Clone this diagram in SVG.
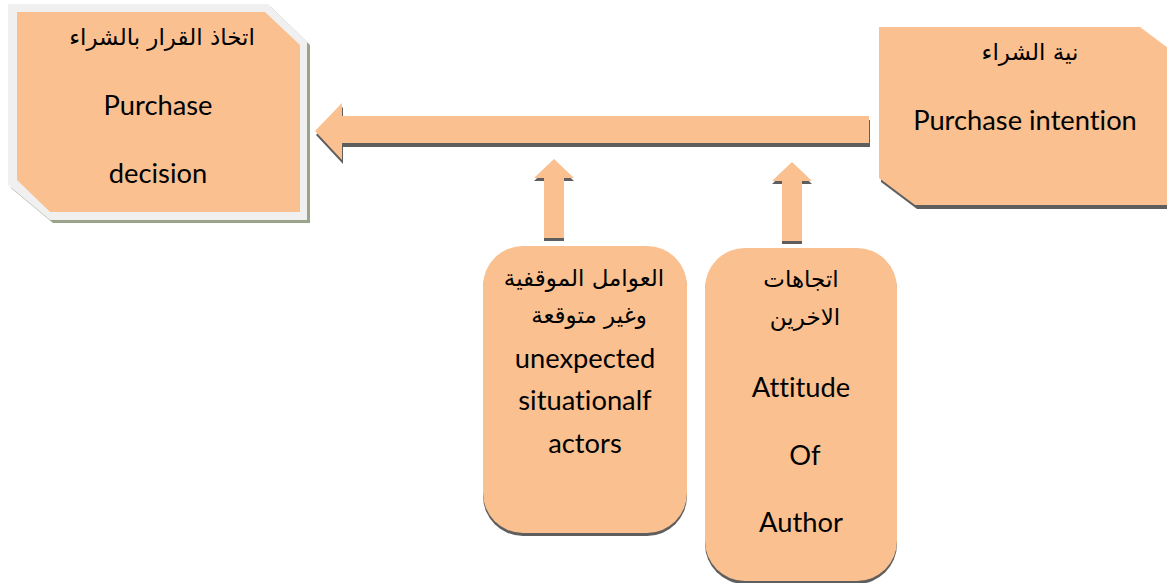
<svg xmlns="http://www.w3.org/2000/svg" width="1167" height="583" viewBox="0 0 1167 583">
<style>
.fill{fill:#FAC090}
.sh{fill:#5E5E5E}
.en{font-family:Lato,"Liberation Sans",sans-serif;font-size:27.3px;fill:#000;text-anchor:middle;font-variant-ligatures:none;font-feature-settings:"liga" 0}
.ar{font-family:"DejaVu Sans",sans-serif;font-size:23px;fill:#000;text-anchor:middle;direction:rtl}
</style>
<rect width="1167" height="583" fill="#fff"/>
<g id="connectors">
  <polygon class="sh" transform="translate(1,4)" points="315,131 342,103 342,116 869,116 869,143 342,143 342,160"/>
  <polygon class="fill" points="315,131 342,103 342,116 869,116 869,143 342,143 342,160"/>
  <polygon class="sh" transform="translate(0,3)" points="554,159 574,178 564,178 564,238 544,238 544,178 534,178"/>
  <polygon class="fill" points="554,159 574,178 564,178 564,238 544,238 544,178 534,178"/>
  <polygon class="sh" transform="translate(0,3)" points="792,162 812,181 802,181 802,241 782,241 782,181 772,181"/>
  <polygon class="fill" points="792,162 812,181 802,181 802,241 782,241 782,181 772,181"/>
</g>
<g id="node-decision">
  <polygon fill="#9AA48A" transform="translate(3,3)" points="8,4 268,4 307,42 307,220 50,220 8,185"/>
  <polygon fill="#F0F0F0" points="8,4 268,4 307,42 307,220 50,220 8,185"/>
  <polygon class="fill" points="17,12 265,12 300,45 300,212 50,212 17,180"/>
  <text class="ar" x="162" y="45">اتخاذ القرار بالشراء</text>
  <text class="en" x="158" y="115">Purchase</text>
  <text class="en" x="158" y="183">decision</text>
</g>
<g id="node-intention">
  <polygon class="sh" transform="translate(2,4)" points="879,27 1140,27 1176,54 1176,205 915,205 879,178"/>
  <polygon class="fill" points="879,27 1140,27 1176,54 1176,205 915,205 879,178"/>
  <text class="ar" x="1030" y="60">نية الشراء</text>
  <text class="en" x="1025" y="130">Purchase intention</text>
</g>
<g id="node-situational">
  <rect class="sh" x="483" y="249" width="204" height="287" rx="40"/>
  <rect class="fill" x="483" y="246" width="204" height="287" rx="40"/>
  <text class="ar" x="584" y="286">العوامل الموقفية</text>
  <text class="ar" x="589" y="323">وغير متوقعة</text>
  <text class="en" x="585" y="368">unexpected</text>
  <text class="en" x="585" y="410">situationalf</text>
  <text class="en" x="585" y="453">actors</text>
</g>
<g id="node-attitude">
  <rect class="sh" x="705" y="251" width="192" height="333" rx="40"/>
  <rect class="fill" x="705" y="248" width="192" height="333" rx="40"/>
  <text class="ar" x="801" y="287">اتجاهات</text>
  <text class="ar" x="805" y="325">الاخرين</text>
  <text class="en" x="801" y="397">Attitude</text>
  <text class="en" x="805" y="465">Of</text>
  <text class="en" x="801" y="532">Author</text>
</g>
</svg>
